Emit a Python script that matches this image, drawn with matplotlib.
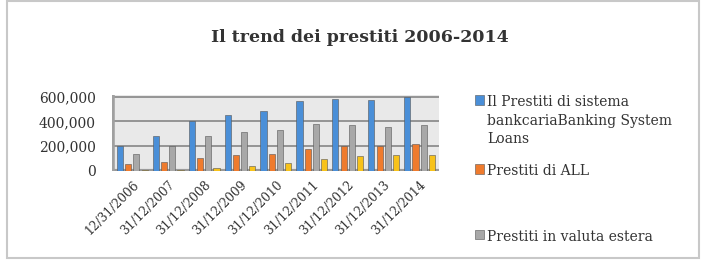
import numpy as np
import matplotlib.pyplot as plt
from matplotlib.patches import Rectangle

# dati
categories = ['12/31/2006', '31/12/2007', '31/12/2008', '31/12/2009', '31/12/2010',
              '31/12/2011', '31/12/2012', '31/12/2013', '31/12/2014']
banking = [200000, 285000, 400000, 450000, 485000, 565000, 580000, 570000, 600000]
all_loans = [55000, 75000, 105000, 125000, 140000, 175000, 200000, 200000, 215000]
foreign = [135000, 200000, 280000, 310000, 330000, 380000, 370000, 355000, 370000]
other = [10000, 10000, 20000, 40000, 65000, 100000, 120000, 125000, 125000]
labels = ['Il Prestiti di sistema\nbankcariaBanking System\nLoans',
          'Prestiti di ALL',
          'Prestiti in valuta estera',
          'Serie 4']
colors = ['#4a8fd8', '#ef7b2d', '#a8a8a8', '#f7c21a']
yticks = [0, 200000, 400000, 600000]

plt.rcParams['font.family'] = ['DejaVu Serif']

fig = plt.figure(figsize=(7.03, 2.61), dpi=100)
ax = fig.add_axes([0.16, 0.345, 0.465, 0.29])

x = np.arange(len(categories))
w = 0.17
series = [banking, all_loans, foreign, other]
bars = []
for i, (vals, col) in enumerate(zip(series, colors)):
    off = (i - 1.5) * 0.23
    b = ax.bar(x + off, vals, w, color=col, edgecolor='#555555', linewidth=0.4, zorder=3)
    bars.append(b)

ax.set_xlim(-0.55, len(categories) - 0.45)
ax.set_ylim(0, 610000)
ax.set_yticks(yticks)
ax.set_yticklabels([f'{v:,}' for v in yticks], fontsize=10, color='#333333')
ax.set_xticks(x)
ax.set_xticklabels(categories, rotation=45, ha='right', rotation_mode='anchor',
                   fontsize=8.8, color='#333333')
ax.tick_params(length=0)
ax.tick_params(axis='y', pad=12)
ax.tick_params(axis='x', pad=5)
ax.set_facecolor('#e9e9e9')
ax.grid(axis='y', color='#8e8e8e', linewidth=1.3, zorder=0)
for s in ax.spines.values():
    s.set_visible(False)
ax.axhline(0, color='#9a9a9a', linewidth=3, zorder=2)
ax.axvline(-0.55, color='#a0a0a0', linewidth=4, zorder=2)

fig.suptitle('Il trend dei prestiti 2006-2014', x=0.512, y=0.89, fontsize=12.5,
             fontweight='bold', color='#333333')

# legenda (solo tre voci visibili)
leg_y = [0.635, 0.37, 0.12]
for b, lab, yy in zip(bars[:3], labels[:3], leg_y):
    leg = fig.legend([b], [lab], loc='upper left', bbox_to_anchor=(0.675, yy),
                     frameon=False, fontsize=10, handlelength=0.7, handleheight=0.7,
                     handletextpad=0.2, borderpad=0, borderaxespad=0, labelcolor='#333333')
    for t in leg.get_texts():
        t.set_linespacing(1.4)
    for col in leg._legend_handle_box.get_children():
        for row in col.get_children():
            row.align = 'top'

fig.patches.append(Rectangle((0.01, 0.01), 0.985, 0.985, transform=fig.transFigure,
                             fill=False, edgecolor='#c8c8c8', linewidth=1.5))

fig.savefig('out.png', dpi=100)
